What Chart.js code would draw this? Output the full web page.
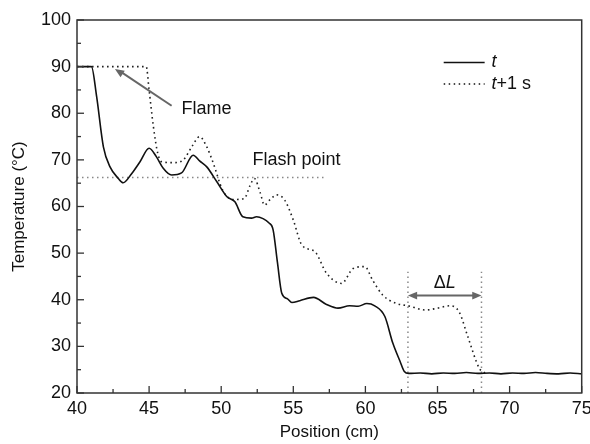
<!DOCTYPE html>
<html>
<head>
<meta charset="utf-8">
<script src="https://cdn.jsdelivr.net/npm/chart.js@4.4.1/dist/chart.umd.min.js"></script>
<style>
  html, body { margin: 0; padding: 0; background: #fff; }
  #wrap { width: 590px; height: 444px; }
</style>
</head>
<body>
<div id="wrap"><canvas id="grafico" width="590" height="444"></canvas></div>
<script>
// dados
const posT = [40, 41, 41.36, 41.83, 42.29, 42.87, 43.2, 43.8, 44.37, 45.0, 45.5, 45.98, 46.56, 47.25, 48.06, 48.5, 49.0, 49.7, 50.4, 50.95, 51.5, 52.1, 52.45, 52.9, 53.3, 53.6, 53.9, 54.2, 54.6, 54.9, 55.45, 56.4, 57.3, 58.1, 58.9, 59.5, 60.1, 60.65, 61.35, 61.9, 62.4, 62.7, 63.0, 63.8, 64.6, 65.4, 66.2, 67.0, 67.8, 68.6, 69.4, 70.2, 71.0, 71.8, 72.6, 73.4, 74.2, 75];
const tempT = [90, 90, 83.6, 72.8, 68.5, 66.0, 65.1, 67.1, 69.6, 72.5, 70.7, 68.2, 66.75, 67.2, 71.0, 69.8, 68.5, 65.3, 62.1, 61.0, 57.8, 57.5, 57.8, 57.4, 56.5, 55.0, 48.0, 41.4, 40.2, 39.4, 39.8, 40.5, 39.0, 38.2, 38.7, 38.6, 39.2, 38.7, 36.4, 30.7, 26.8, 24.6, 24.2, 24.3, 24.1, 24.3, 24.2, 24.4, 24.2, 24.3, 24.1, 24.3, 24.2, 24.4, 24.2, 24.1, 24.3, 24.1];

const posT1 = [40, 44.8, 45.0, 45.3, 45.6, 45.87, 46.7, 47.37, 48.0, 48.5, 49.0, 49.45, 50.1, 50.8, 51.6, 52.0, 52.3, 52.7, 53.0, 53.4, 53.85, 54.4, 55.0, 55.6, 56.5, 57.3, 58.35, 59.15, 59.96, 60.5, 61.2, 62.15, 62.96, 64.2, 65.0, 65.85, 66.5, 67.1, 67.9, 68.3];
const tempT1 = [90, 90, 85, 77.1, 71.4, 69.6, 69.4, 70.0, 73.0, 75.0, 72.8, 69.3, 63.5, 61.5, 61.7, 64.5, 66.0, 63.0, 60.3, 61.5, 62.5, 61.4, 57.1, 51.7, 50.3, 45.7, 43.5, 46.7, 47.1, 44.2, 41.0, 39.2, 38.7, 37.8, 38.2, 38.7, 37.4, 32.1, 25.3, 24.3];

const posFlash = [40, 57.3];
const tempFlash = [66.2, 66.2];

const posDeltaA = [62.95, 62.95];
const posDeltaB = [68.05, 68.05];
const tempDelta = [20, 46];

const xTicks = [40, 45, 50, 55, 60, 65, 70, 75];
const yTicks = [20, 30, 40, 50, 60, 70, 80, 90, 100];

const FONTE = "Arial, 'Liberation Sans', sans-serif";

function pares(xs, ys) {
  return xs.map((x, i) => ({ x: x, y: ys[i] }));
}

function seta(ctx, x1, y1, x2, y2, tam) {
  const ang = Math.atan2(y2 - y1, x2 - x1);
  ctx.beginPath();
  ctx.moveTo(x2, y2);
  ctx.lineTo(x2 - tam * Math.cos(ang - 0.4), y2 - tam * Math.sin(ang - 0.4));
  ctx.lineTo(x2 - tam * Math.cos(ang + 0.4), y2 - tam * Math.sin(ang + 0.4));
  ctx.closePath();
  ctx.fill();
}

// moldura, ticks para dentro, anotações e legenda
const extras = {
  id: 'extras',
  afterDatasetsDraw(chart) {
    const ctx = chart.ctx;
    const a = chart.chartArea;
    const sx = chart.scales.x, sy = chart.scales.y;
    ctx.save();

    ctx.strokeStyle = '#333';
    ctx.lineWidth = 1.5;
    ctx.strokeRect(a.left, a.top, a.right - a.left, a.bottom - a.top);

    ctx.lineWidth = 1.3;
    for (let v = 40; v <= 75; v += 2.5) {
      const px = sx.getPixelForValue(v);
      const len = v % 5 === 0 ? 7 : 4;
      ctx.beginPath();
      ctx.moveTo(px, a.bottom);
      ctx.lineTo(px, a.bottom - len);
      ctx.stroke();
    }
    for (let v = 20; v <= 100; v += 5) {
      const py = sy.getPixelForValue(v);
      const len = v % 10 === 0 ? 7 : 4;
      ctx.beginPath();
      ctx.moveTo(a.left, py);
      ctx.lineTo(a.left + len, py);
      ctx.stroke();
    }

    // seta da chama
    ctx.strokeStyle = '#666';
    ctx.fillStyle = '#666';
    ctx.lineWidth = 2;
    const fx1 = sx.getPixelForValue(46.56), fy1 = sy.getPixelForValue(81.6);
    const fx2 = sx.getPixelForValue(42.63), fy2 = sy.getPixelForValue(89.5);
    ctx.beginPath();
    ctx.moveTo(fx1, fy1);
    ctx.lineTo(fx2 + 6, fy2 + 3);
    ctx.stroke();
    seta(ctx, fx1, fy1, fx2, fy2, 10);

    // seta delta L
    const dy = sy.getPixelForValue(40.9);
    const dxa = sx.getPixelForValue(62.95), dxb = sx.getPixelForValue(68.05);
    ctx.beginPath();
    ctx.moveTo(dxa + 6, dy);
    ctx.lineTo(dxb - 6, dy);
    ctx.stroke();
    seta(ctx, dxb, dy, dxa, dy, 10);
    seta(ctx, dxa, dy, dxb, dy, 10);

    ctx.fillStyle = '#111';
    ctx.textBaseline = 'middle';
    ctx.textAlign = 'left';
    ctx.font = '18px ' + FONTE;
    ctx.fillText('Flame', sx.getPixelForValue(47.25), sy.getPixelForValue(80.8));
    ctx.fillText('Flash point', sx.getPixelForValue(52.17), sy.getPixelForValue(70.0));

    // delta L
    const dLy = sy.getPixelForValue(43.6);
    const wD = ctx.measureText('\u0394').width;
    ctx.font = 'italic 18px ' + FONTE;
    const wL = ctx.measureText('L').width;
    let xx = sx.getPixelForValue(65.5) - (wD + wL) / 2;
    ctx.font = '18px ' + FONTE;
    ctx.fillText('\u0394', xx, dLy);
    ctx.font = 'italic 18px ' + FONTE;
    ctx.fillText('L', xx + wD, dLy);

    // legenda
    const lx1 = sx.getPixelForValue(65.43), lx2 = sx.getPixelForValue(68.27);
    const ly1 = sy.getPixelForValue(90.9), ly2 = sy.getPixelForValue(86.3);
    ctx.strokeStyle = '#111';
    ctx.lineWidth = 1.5;
    ctx.beginPath();
    ctx.moveTo(lx1, ly1);
    ctx.lineTo(lx2, ly1);
    ctx.stroke();
    ctx.setLineDash([1.5, 3.5]);
    ctx.beginPath();
    ctx.moveTo(lx1, ly2);
    ctx.lineTo(lx2, ly2);
    ctx.stroke();
    ctx.setLineDash([]);
    const tx = sx.getPixelForValue(68.74);
    ctx.font = 'italic 18px ' + FONTE;
    ctx.fillText('t', tx, ly1);
    ctx.fillText('t', tx, ly2);
    const wt = ctx.measureText('t').width;
    ctx.font = '18px ' + FONTE;
    ctx.fillText('+1 s', tx + wt, ly2);

    ctx.restore();
  }
};

new Chart(document.getElementById('grafico'), {
  type: 'line',
  data: {
    datasets: [
      {
        label: 't',
        data: pares(posT, tempT),
        borderColor: '#111',
        borderWidth: 1.6,
        pointRadius: 0,
        cubicInterpolationMode: 'monotone'
      },
      {
        label: 't+1 s',
        data: pares(posT1, tempT1),
        borderColor: '#222',
        borderWidth: 1.6,
        borderDash: [1.6, 3.4],
        pointRadius: 0,
        cubicInterpolationMode: 'monotone'
      },
      {
        label: 'Flash point',
        data: pares(posFlash, tempFlash),
        borderColor: '#888',
        borderWidth: 1.5,
        borderDash: [1.5, 3.5],
        pointRadius: 0
      },
      {
        label: 'a',
        data: pares(posDeltaA, tempDelta),
        borderColor: '#888',
        borderWidth: 1.5,
        borderDash: [1.5, 3.5],
        pointRadius: 0
      },
      {
        label: 'b',
        data: pares(posDeltaB, tempDelta),
        borderColor: '#888',
        borderWidth: 1.5,
        borderDash: [1.5, 3.5],
        pointRadius: 0
      }
    ]
  },
  options: {
    responsive: false,
    animation: false,
    layout: { padding: { left: 0, top: 20, right: 0, bottom: 0 } },
    plugins: {
      legend: { display: false },
      tooltip: { enabled: false }
    },
    scales: {
      x: {
        type: 'linear',
        min: 40,
        max: 75,
        afterBuildTicks: (s) => { s.ticks = xTicks.map(v => ({ value: v })); },
        afterFit: (s) => { s.height = 51; s.paddingLeft = 0; s.paddingRight = 8.3; },
        grid: { display: false, drawTicks: false },
        border: { display: false },
        ticks: { color: '#111', font: { size: 18, family: FONTE }, padding: 5, maxRotation: 0 },
        title: { display: true, text: 'Position (cm)', color: '#111', font: { size: 17, family: FONTE }, padding: { top: 0, bottom: 1 } }
      },
      y: {
        type: 'linear',
        min: 20,
        max: 100,
        afterBuildTicks: (s) => { s.ticks = yTicks.map(v => ({ value: v })); },
        afterFit: (s) => { s.width = 77; },
        grid: { display: false, drawTicks: false },
        border: { display: false },
        ticks: { color: '#111', font: { size: 18, family: FONTE }, padding: 6 },
        title: { display: true, text: 'Temperature (\u00B0C)', color: '#111', font: { size: 17, family: FONTE }, padding: { top: 9, bottom: 0 } }
      }
    }
  },
  plugins: [extras]
});
</script>
</body>
</html>
